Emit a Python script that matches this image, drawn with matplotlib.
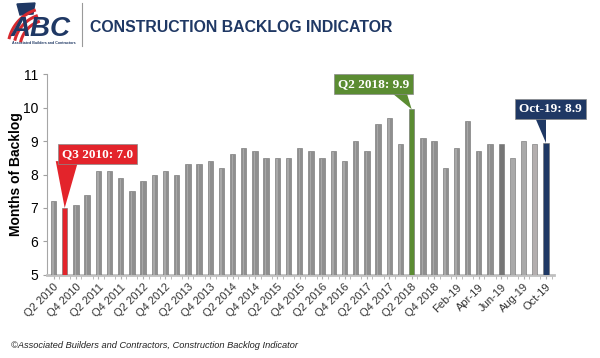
import matplotlib.pyplot as plt
from matplotlib.patches import Polygon
import numpy as np

plt.rcParams["font.family"] = ["Liberation Sans", "DejaVu Sans"]

# Construction backlog indicator, months of backlog
quarters = [f"Q{q} {y}" for y in range(2010, 2019) for q in (1, 2, 3, 4)][1:]
months = ["Jan-19", "Feb-19", "Mar-19", "Apr-19", "May-19", "Jun-19",
          "Jul-19", "Aug-19", "Sep-19", "Oct-19"]
labels = quarters + months

backlog = [7.2, 7.0, 7.1, 7.4, 8.1, 8.1, 7.9, 7.5, 7.8, 8.0,
           8.1, 8.0, 8.3, 8.3, 8.4, 8.2, 8.6, 8.8, 8.7, 8.5,
           8.5, 8.5, 8.8, 8.7, 8.5, 8.7, 8.4, 9.0, 8.7, 9.5,
           9.7, 8.9, 9.95, 9.1, 9.0, 8.2, 8.8, 9.6, 8.7, 8.9,
           8.9, 8.5, 9.0, 8.9, 8.95]

# highlighted bars: label text, colour
callouts = {
    "Q3 2010": ("Q3 2010: 7.0", "#e3242b"),
    "Q2 2018": ("Q2 2018: 9.9", "#5b8c32"),
    "Oct-19": ("Oct-19: 8.9", "#1f3864"),
}
# box centre (x, y) and the tail base span on the box bottom, in data units
box_pos = {"Q3 2010": (3.9, 8.6), "Q2 2018": (28.6, 10.7), "Oct-19": (44.4, 9.97)}
tail_base = {"Q3 2010": (0.2, 2.2), "Q2 2018": (30.0, 31.5), "Oct-19": (42.9, 44.0)}

navy = "#1f3864"
colors = []
for lab in labels:
    if lab in callouts:
        colors.append(callouts[lab][1])
    elif lab == "Jun-19":
        colors.append("#767676")
    elif lab in ("Jul-19", "Aug-19"):
        colors.append("#a9a9a9")
    elif lab == "Sep-19":
        colors.append("#b3aeae")
    else:
        colors.append("#8f8f8f")

fig = plt.figure(figsize=(6, 3.58), dpi=100)
ax = fig.add_axes([0.078, 0.232, 0.845, 0.561])

x = np.arange(len(labels))
bars = ax.bar(x, np.array(backlog) - 5, bottom=5, width=0.48, color=colors,
              edgecolor="#6e6e6e", linewidth=0.4, zorder=3)
# lighter strip on the grey bars for the 3d look
for b, c in zip(bars, colors):
    if c == "#8f8f8f":
        ax.bar(b.get_x() + b.get_width() * 0.3, b.get_height() - 0.03, bottom=5,
               width=b.get_width() * 0.25, align="edge", color="#a8a8a8",
               linewidth=0, zorder=4)

ax.set_ylim(5, 11)
ax.set_xlim(-0.6, 44.7)
ax.set_yticks(range(5, 12))
ax.tick_params(axis="y", labelsize=10, length=3, color="#a0a0a0", pad=3)
ax.set_xticks(x[::2])
ax.set_xticklabels(labels[::2], rotation=45, ha="right", rotation_mode="anchor",
                   fontsize=8, color="#333333")
ax.set_xticks(x + 0.5, minor=True)
ax.tick_params(axis="x", which="both", length=3, color="#b0b0b0", pad=2)

for side in ("top", "right"):
    ax.spines[side].set_visible(False)
ax.spines["left"].set_color("#a6a6a6")
ax.spines["bottom"].set_color("#c0c0c0")
ax.spines["bottom"].set_linewidth(2)

ax.set_ylabel("Months of Backlog", fontsize=10, fontweight="bold", labelpad=0)

for lab, (text, col) in callouts.items():
    i = labels.index(lab)
    bx, by = box_pos[lab]
    x0, x1 = tail_base[lab]
    ax.add_patch(Polygon([(x0, by - 0.2), (x1, by - 0.2), (i, backlog[i])],
                         closed=True, fc=col, ec="none", zorder=5, clip_on=False))
    ax.text(bx, by, text, ha="center", va="center", fontsize=9.5, fontweight="bold",
            family="Liberation Serif", color="white", zorder=6,
            bbox=dict(boxstyle="square,pad=0.3", fc=col, ec="#8a8a8a", lw=0.5))


def px(xp, yp):
    # pixel position in the 600x358 image -> figure fraction
    return np.asarray(xp) / 600, 1 - np.asarray(yp) / 358


# header: rough ABC logo (flag stripes, star field, letters)
theta = np.radians(np.linspace(110, 165, 30))
for r in (40, 34, 28):
    fx, fy = px(48 + r * np.cos(theta), 48 - r * np.sin(theta))
    fig.add_artist(plt.Line2D(fx, fy, color="#d62a2f", lw=2.2, transform=fig.transFigure))
fx, fy = px([17, 35, 33, 20], [4, 3, 14, 15])
fig.add_artist(Polygon(np.column_stack([fx, fy]), closed=True, color=navy,
                       transform=fig.transFigure))
fig.text(*px(11, 29), "ABC", fontsize=20, fontweight="bold", style="italic",
         color=navy, ha="left", va="center")
fig.text(*px(12, 43), "Associated Builders and Contractors", fontsize=2.6,
         color=navy, ha="left", va="center", fontweight="bold")
fig.add_artist(plt.Line2D(*px([82, 82], [3, 46]), color="#9a9a9a", lw=0.8,
                          transform=fig.transFigure))
fig.text(*px(90, 27), "CONSTRUCTION BACKLOG INDICATOR", fontsize=11.4,
         fontweight="bold", color=navy, ha="left", va="center")

fig.text(*px(11, 345), "\u00a9Associated Builders and Contractors, Construction Backlog Indicator",
         fontsize=6.7, style="italic", color="#222222", ha="left", va="center")

fig.savefig("out.png", dpi=100)
